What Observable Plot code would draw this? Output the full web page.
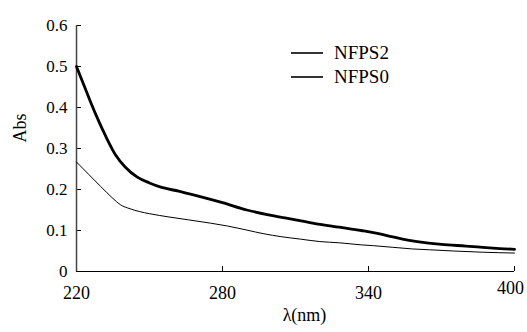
<!DOCTYPE html>
<html>
<head>
<meta charset="utf-8">
<script src="https://cdn.jsdelivr.net/npm/d3@7"></script>
<script src="https://cdn.jsdelivr.net/npm/@observablehq/plot@0.6"></script>
<style>
  html, body { margin: 0; padding: 0; background: #fff; }
  #wrap { position: relative; width: 527px; height: 332px; font-family: 'Liberation Serif', 'DejaVu Serif', serif; }
  #chart svg, #chart svg text { font-family: 'Liberation Serif', 'DejaVu Serif', serif !important; }
  #legend { position: absolute; left: 290px; top: 41px; font-size: 19px; color: #000; line-height: 24px; }
  #legend .row { display: flex; align-items: center; height: 24px; }
  #legend svg { margin-right: 10px; }
</style>
</head>
<body>
<div id="wrap">
  <div id="chart"></div>
  <div id="legend"></div>
</div>
<script>
// Series names
const seriesNames = ["NFPS2", "NFPS0"];

// NFPS2 (thick line)
const lambda2 = [220, 224, 228, 232, 236, 240, 245, 250, 255, 262, 266, 272, 280, 290, 300, 310, 318, 328, 337, 342, 348, 354, 360, 370, 380, 387, 394, 400];
const abs2    = [0.500, 0.440, 0.382, 0.330, 0.285, 0.255, 0.230, 0.216, 0.205, 0.196, 0.190, 0.181, 0.168, 0.150, 0.137, 0.126, 0.117, 0.108, 0.100, 0.095, 0.087, 0.079, 0.073, 0.066, 0.062, 0.059, 0.056, 0.054];

// NFPS0 (thin line)
const lambda0 = [220, 225, 230, 235, 238, 242, 246, 250, 258, 266, 275, 282, 290, 297, 304, 312, 320, 328, 337, 342, 350, 358, 365, 375, 387, 400];
const abs0    = [0.267, 0.237, 0.207, 0.178, 0.163, 0.153, 0.146, 0.141, 0.133, 0.126, 0.118, 0.111, 0.101, 0.092, 0.085, 0.079, 0.073, 0.070, 0.065, 0.063, 0.059, 0.055, 0.053, 0.050, 0.047, 0.045];

// Axes
const xDomain = [220, 400];
const yDomain = [0, 0.6];
const xTicks = [220, 280, 340, 400];
const yTicks = [0, 0.1, 0.2, 0.3, 0.4, 0.5, 0.6];
const xLabel = "λ(nm)";
const yLabel = "Abs";

const data2 = lambda2.map((x, i) => ({x, y: abs2[i]}));
const data0 = lambda0.map((x, i) => ({x, y: abs0[i]}));
const lastTick = xTicks[xTicks.length - 1];

const chart = Plot.plot({
  width: 527,
  height: 332,
  marginLeft: 76,
  marginRight: 13,
  marginTop: 25,
  marginBottom: 61,
  style: {fontFamily: "'Liberation Serif', 'DejaVu Serif', serif", background: "#fff", color: "#000", overflow: "visible"},
  x: {domain: xDomain},
  y: {domain: yDomain},
  marks: [
    Plot.axisX({ticks: xTicks, tickSize: -5, tickPadding: 20, fontSize: 18, label: null, tickFormat: d => d === lastTick ? "" : String(d)}),
    Plot.text([lastTick], {x: d => d, frameAnchor: "bottom", dy: 22, dx: -4, fontSize: 18, text: d => String(d)}),
    Plot.axisY({ticks: yTicks, tickSize: -5, tickPadding: 14, fontSize: 17, label: null, tickFormat: d => d === 0 ? "0" : d.toFixed(1)}),
    Plot.ruleX([xDomain[0]], {stroke: "#444", strokeWidth: 1.5}),
    Plot.ruleY([yDomain[0]], {stroke: "#000", strokeWidth: 1.2}),
    Plot.line(data0, {x: "x", y: "y", stroke: "#000", strokeWidth: 1, curve: "monotone-x"}),
    Plot.line(data2, {x: "x", y: "y", stroke: "#000", strokeWidth: 2.8, curve: "monotone-x"}),
    Plot.text([xLabel], {frameAnchor: "bottom", dx: 9, dy: 49, fontSize: 18}),
    Plot.text([yLabel], {frameAnchor: "left", dx: -56, dy: -6, rotate: -90, fontSize: 18})
  ]
});
document.getElementById("chart").appendChild(chart);

// Legend
const legend = document.getElementById("legend");
seriesNames.forEach(name => {
  const row = document.createElement("div");
  row.className = "row";
  row.innerHTML = `<svg width="34" height="10"><line x1="1" x2="33" y1="5" y2="5" stroke="#000" stroke-width="1.6"/></svg><span>${name}</span>`;
  legend.appendChild(row);
});
</script>
</body>
</html>
